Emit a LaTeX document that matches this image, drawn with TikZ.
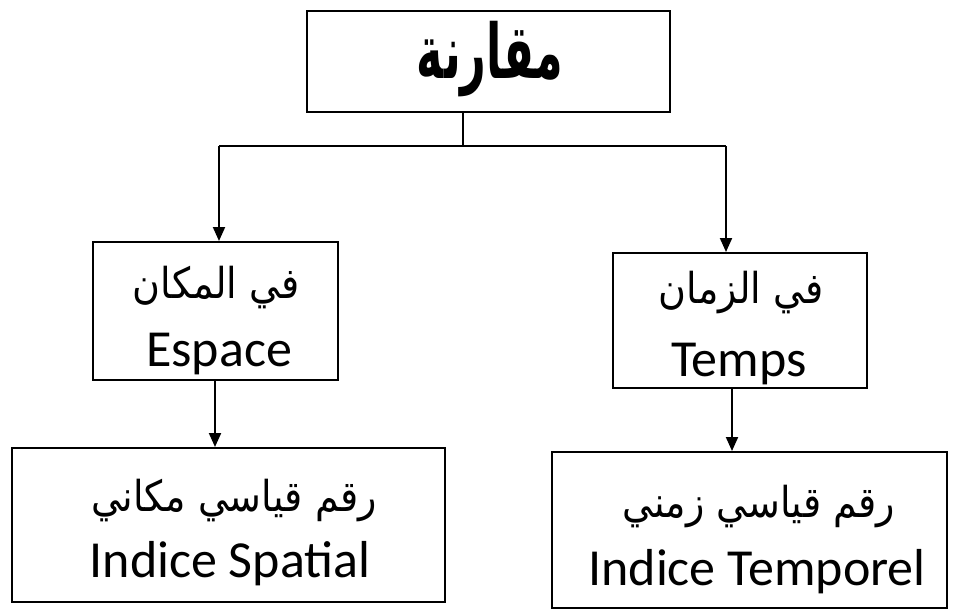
\documentclass[tikz,border=0pt]{standalone}
\usepackage{fontspec}
\usepackage{graphicx}
\setmainfont{Carlito}
\newfontfamily\arabicfont[Script=Arabic]{DejaVu Sans}
\TeXXeTstate=1
\usetikzlibrary{arrows.meta}
\tikzset{
  box/.style={draw=black, line width=2pt, fill=white, rectangle, inner sep=0pt},
  lat/.style={anchor=base, inner sep=0pt, font=\fontsize{52}{60}\selectfont},
  arb/.style={anchor=base, inner sep=0pt, font=\arabicfont\fontsize{38}{46}\selectfont},
  arbtop/.style={anchor=base, inner sep=0pt, font=\arabicfont\bfseries\fontsize{58}{64}\selectfont},
  conn/.style={line width=2pt},
  arr/.style={line width=2pt, -{Triangle[length=14pt,width=12pt]}}
}
\newcommand{\artxt}[1]{\scalebox{1}[1.12]{\beginR #1\endR}}
\begin{document}
\begin{tikzpicture}[x=1pt,y=-1pt]
\useasboundingbox (0,0) rectangle (955,614);
\fill[white] (0,0) rectangle (955,614);
% boxes
\node[box, minimum width=363pt, minimum height=101pt] (top) at (488.5,61.5) {};
\node[box, minimum width=245pt, minimum height=138pt] (L) at (215.5,311) {};
\node[box, minimum width=254pt, minimum height=135pt] (R) at (740,320.5) {};
\node[box, minimum width=433pt, minimum height=154pt] (BL) at (228.5,525) {};
\node[box, minimum width=395pt, minimum height=156pt] (BR) at (749.5,530) {};
% texts
\node[arbtop] (topt) at (490,78) {\scalebox{0.77}[1.3]{\beginR مقارنة\endR}};
\node[arb] (La) at (216,298) {\artxt{في المكان}};
\node[lat] (Le) at (219,366) {Espace};
\node[arb] (Ra) at (741,303) {\artxt{في الزمان}};
\node[lat] (Re) at (739,376) {Temps};
\node[arb] (BLa) at (234,511) {\artxt{رقم قياسي مكاني}};
\node[lat] (BLe) at (230,577) {Indice Spatial};
\node[arb] (BRa) at (759,517) {\artxt{رقم قياسي زمني}};
\node[lat] (BRe) at (757,585) {Indice Temporel};
% connectors
\coordinate (j) at (463,146);
\coordinate (jl) at (219,146);
\coordinate (jr) at (726,146);
\draw[conn] (top.south -| j) -- (j);
\draw[conn] (jl) -- (jr);
\draw[arr] (jl) -- (jl |- L.north);
\draw[arr] (jr) -- (jr |- R.north);
\coordinate (dl) at (215,0);
\coordinate (dr) at (732,0);
\draw[arr] (L.south -| dl) -- (BL.north -| dl);
\draw[arr] (R.south -| dr) -- (BR.north -| dr);
\end{tikzpicture}
\end{document}
